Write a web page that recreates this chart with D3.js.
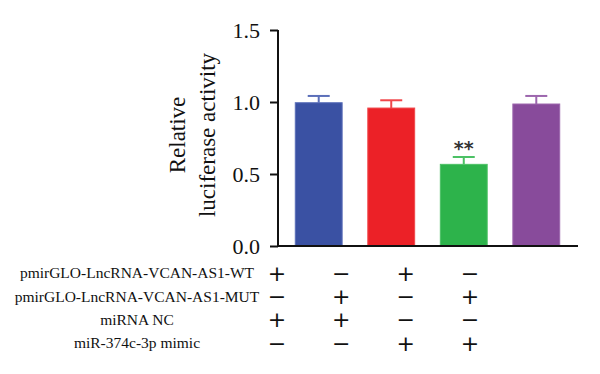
<!DOCTYPE html>
<html>
<head>
<meta charset="utf-8">
<script src="https://cdn.jsdelivr.net/npm/d3@7"></script>
<style>
  body { margin: 0; background: #fff; }
  text { font-family: "Liberation Serif", "DejaVu Serif", serif; fill: #111; }
</style>
</head>
<body>
<div id="chart"></div>
<script>
var groups = ["g1", "g2", "g3", "g4"],
    means = [0.995, 0.958, 0.567, 0.986],
    errors = [0.047, 0.054, 0.051, 0.056],
    colors = ["#3a51a3", "#ec2127", "#2db34b", "#884b9b"],
    edgeColors = ["#5b6fb9", "#f0474b", "#4cc165", "#9c66ad"],
    yTicks = [0.0, 0.5, 1.0, 1.5],
    stars = ["", "", "**", ""];

var rowLabels = ["pmirGLO-LncRNA-VCAN-AS1-WT", "pmirGLO-LncRNA-VCAN-AS1-MUT", "miRNA NC", "miR-374c-3p mimic"],
    signs = [
        ["+", "\u2212", "+", "\u2212"],
        ["\u2212", "+", "\u2212", "+"],
        ["+", "+", "\u2212", "\u2212"],
        ["\u2212", "\u2212", "+", "+"]
    ];

var width = 600, height = 374;
var plot = { left: 278, right: 578, top: 30, bottom: 246 };

var svg = d3.select("#chart").append("svg")
    .attr("width", width)
    .attr("height", height);

var x = d3.scaleBand()
    .domain(groups)
    .range([plot.left + 3, plot.right - 4])
    .paddingInner(0.34)
    .paddingOuter(0.19);

var y = d3.scaleLinear()
    .domain([0, 1.5])
    .range([plot.bottom, plot.top]);

// bars
svg.append("g").selectAll("rect")
    .data(means)
    .enter().append("rect")
    .attr("x", function(d, i) { return x(groups[i]) + 0.5; })
    .attr("y", function(d) { return y(d); })
    .attr("width", x.bandwidth() - 1)
    .attr("height", function(d) { return y(0) - y(d); })
    .attr("fill", function(d, i) { return colors[i]; })
    .attr("stroke", function(d, i) { return edgeColors[i]; })
    .attr("stroke-width", 1);

// error bars (upper only)
var err = svg.append("g");
means.forEach(function(m, i) {
    var cx = x(groups[i]) + x.bandwidth() / 2;
    err.append("line")
        .attr("x1", cx).attr("x2", cx)
        .attr("y1", y(m)).attr("y2", y(m + errors[i]))
        .attr("stroke", edgeColors[i]).attr("stroke-width", 2);
    err.append("line")
        .attr("x1", cx - 11).attr("x2", cx + 11)
        .attr("y1", y(m + errors[i])).attr("y2", y(m + errors[i]))
        .attr("stroke", edgeColors[i]).attr("stroke-width", 2);
    if (stars[i]) {
        err.append("text")
            .attr("x", cx)
            .attr("y", y(m + errors[i]) - 2)
            .attr("text-anchor", "middle")
            .style("font-size", "19px")
            .style("font-weight", "bold")
            .style("font-family", "'DejaVu Sans', sans-serif")
            .style("fill", "#333")
            .text(stars[i]);
    }
});

// axes
var yAxis = svg.append("g")
    .attr("transform", "translate(" + plot.left + ",0)")
    .call(d3.axisLeft(y).tickValues(yTicks).tickSize(8).tickPadding(10)
        .tickFormat(d3.format(".1f")));
yAxis.selectAll("path, line").attr("stroke", "#111").attr("stroke-width", 2);
yAxis.select("path").attr("d", "M0," + (plot.bottom + 1) + "V" + plot.top);
yAxis.selectAll("text").style("font-size", "22px").style("fill", "#111");

svg.append("line")
    .attr("x1", plot.left - 1).attr("x2", plot.right)
    .attr("y1", plot.bottom).attr("y2", plot.bottom)
    .attr("stroke", "#111").attr("stroke-width", 2);

// y label
var yl = svg.append("text")
    .attr("transform", "translate(192,135) rotate(-90)")
    .attr("text-anchor", "middle")
    .style("font-size", "23px");
yl.append("tspan").attr("x", 0).attr("dy", "-0.3em").text("Relative");
yl.append("tspan").attr("x", 0).attr("dy", "1.3em").text("luciferase activity");

// treatment table
var colX = d3.scalePoint()
    .domain(groups)
    .range([277, 470]);
var rowY = d3.scalePoint()
    .domain(rowLabels)
    .range([273, 343]);

var table = svg.append("g");
rowLabels.forEach(function(lab, r) {
    table.append("text")
        .attr("x", 137)
        .attr("y", rowY(lab))
        .attr("dy", "0.35em")
        .attr("text-anchor", "middle")
        .style("font-size", "15.5px")
        .text(lab);
    signs[r].forEach(function(s, c) {
        table.append("text")
            .attr("x", colX(groups[c]))
            .attr("y", rowY(lab))
            .attr("dy", "0.35em")
            .attr("text-anchor", "middle")
            .style("font-size", "22px")
            .style("font-family", "'DejaVu Sans', sans-serif")
            .text(s);
    });
});
</script>
</body>
</html>
